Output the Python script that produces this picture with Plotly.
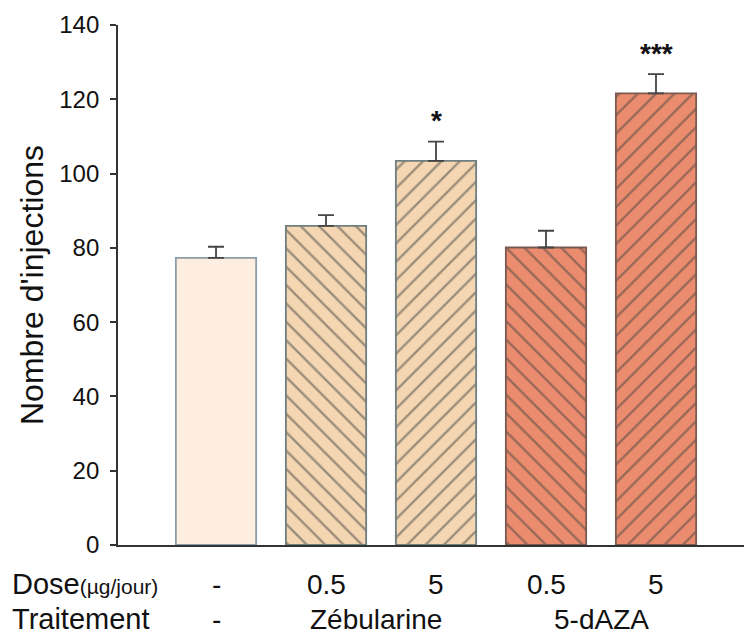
import plotly.graph_objects as go

categories = ["ctrl", "zeb05", "zeb5", "aza05", "aza5"]
values = [77.3, 85.9, 103.4, 80.1, 121.6]
errors = [3.0, 2.9, 5.2, 4.5, 5.2]
doses = ["-", "0.5", "5", "0.5", "5"]
treatments = ["-", "Zébularine", "5-dAZA"]
treat_pos = [0, 1.45, 3.5]
stars = ["", "", "*", "", "***"]
y_ticks = [0, 20, 40, 60, 80, 100, 120, 140]

fills = ["#fdeee1", "#f4d6b2", "#f4d6b2", "#ec8c6e", "#ec8c6e"]
shapes = ["", "\\", "/", "\\", "/"]
hatch_colors = ["#3a3a3a", "#3a3a38", "#3a3a38", "#3a2520", "#3a2520"]
outline = ["#8a9ca6", "#6f7f80", "#6f7f80", "#7a5a50", "#7a5a50"]

xs = list(range(len(categories)))
fig = go.Figure()
fig.add_trace(go.Bar(
    x=xs, y=values, width=0.73,
    marker=dict(color=fills, line=dict(color=outline, width=1.8),
                pattern=dict(shape=shapes, fgcolor=hatch_colors, bgcolor=fills,
                             size=13, solidity=0.18, fillmode="overlay")),
    error_y=dict(type="data", array=errors, arrayminus=[0]*5, color="#444444",
                 thickness=1.8, width=8, symmetric=False),
    showlegend=False, hoverinfo="skip",
))

font = "Liberation Sans, Arial, sans-serif"
ann = []
for x, v, e, s in zip(xs, values, errors, stars):
    if s:
        ann.append(dict(x=x, y=v + e + 5.6, text="<b>%s</b>" % s, showarrow=False,
                        yanchor="middle",
                        font=dict(size=28, color="#111", family=font)))
for x, d in zip(xs, doses):
    ann.append(dict(x=x, y=-0.075, yref="paper", text=d, showarrow=False,
                    yanchor="middle", font=dict(size=28, color="#111", family=font)))
for x, t in zip(treat_pos, treatments):
    ann.append(dict(x=x, y=-0.143, yref="paper", text=t, showarrow=False,
                    yanchor="middle", font=dict(size=28, color="#111", family=font)))
ann.append(dict(x=0, xref="paper", y=-0.075, yref="paper", xanchor="left", xshift=-108,
                text="Dose<span style='font-size:21px'>(µg/jour)</span>", showarrow=False,
                yanchor="middle", font=dict(size=29, color="#111", family=font)))
ann.append(dict(x=0, xref="paper", y=-0.143, yref="paper", xanchor="left", xshift=-108,
                text="Traitement", showarrow=False,
                yanchor="middle", font=dict(size=29, color="#111", family=font)))
ann.append(dict(x=0, xref="paper", xshift=-86, xanchor="center", y=0.5, yref="paper",
                yanchor="middle",
                text="Nombre d'injections", textangle=-90, showarrow=False,
                font=dict(size=32, color="#111", family=font)))

fig.update_layout(
    width=744, height=637,
    margin=dict(l=118, r=0, t=25, b=92),
    paper_bgcolor="white", plot_bgcolor="white",
    annotations=ann, hovermode=False,
    xaxis=dict(range=[-0.891, 4.8], showticklabels=False, ticks="", showgrid=False,
               zeroline=False, showline=True, linecolor="#333", linewidth=1.8),
    yaxis=dict(range=[0, 140], tickvals=y_ticks, ticks="outside", ticklen=6,
               tickcolor="#333", tickwidth=1.5, showgrid=False, zeroline=False,
               showline=True, linecolor="#333", linewidth=1.8, ticklabelstandoff=6,
               tickfont=dict(size=24, color="#111", family=font)),
)
fig.write_html("out.html", config={"displayModeBar": False},
               post_script="document.body.style.margin='0';document.body.style.overflow='hidden';")
